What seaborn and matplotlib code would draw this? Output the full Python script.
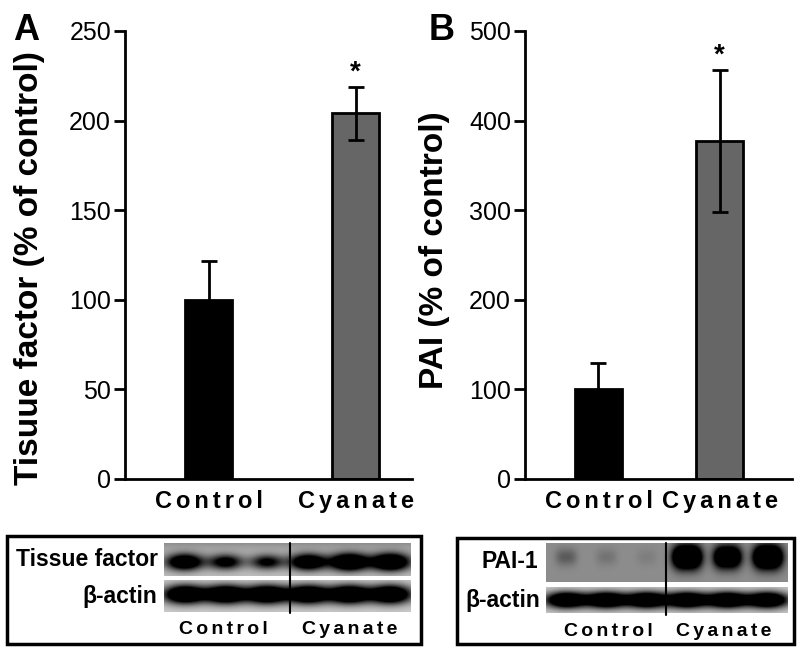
import numpy as np
import pandas as pd
import seaborn as sns
import matplotlib.pyplot as plt
from matplotlib.patches import Rectangle

# bar data (% of control)
groups = ["Control", "Cyanate"]
tf_mean = [100, 204]
tf_sem = [21.5, 15]
pai_mean = [101, 377]
pai_sem = [28, 79]

# western blot band darkness per lane (3 control lanes, 3 cyanate lanes)
tf_band = [0.85, 0.62, 0.55, 0.85, 1.0, 1.0]
tf_actin = [1.0, 1.0, 1.0, 1.0, 1.0, 1.0]
pai_band = [0.14, 0.07, 0.04, 1.0, 0.85, 1.0]
pai_actin = [1.0, 1.0, 1.0, 1.0, 1.0, 1.0]

sns.set_style("ticks")
plt.rcParams["font.family"] = ["Liberation Sans", "DejaVu Sans"]
for key in ["text.color", "axes.labelcolor", "xtick.color", "ytick.color", "axes.edgecolor"]:
    plt.rcParams[key] = "black"

W, H = 800, 650
fig = plt.figure(figsize=(8, 6.5), dpi=100)


def px_axes(x0, y0, x1, y1, **kw):
    return fig.add_axes([x0 / W, 1 - y1 / H, (x1 - x0) / W, (y1 - y0) / H], **kw)


def spaced(s):
    # hair spaces for the loose letter spacing of the original
    return "\u200a\u200a".join(s)


def bar_panel(ax, means, sems, ymax, step, width, xlim, ylabel, letter):
    df = pd.DataFrame({"group": groups, "value": means})
    sns.barplot(data=df, x="group", y="value", hue="group",
                palette=["black", "#666666"], width=width, errorbar=None,
                edgecolor="black", linewidth=2, legend=False, ax=ax)
    x = np.arange(len(means))
    ax.errorbar(x, means, yerr=sems, fmt="none", ecolor="black",
                elinewidth=2, capsize=6, capthick=2, zorder=5)
    # significance mark above the cyanate bar
    ax.annotate("*", (1, means[1] + sems[1]), xytext=(0, 1),
                textcoords="offset points", ha="center", va="bottom",
                fontsize=20, fontweight="bold")
    ax.set_xlim(*xlim)
    ax.set_ylim(0, ymax)
    ax.set_yticks(np.arange(0, ymax + 1, step))
    ax.set_xticks(x)
    ax.set_xticklabels([spaced(g) for g in groups], fontsize=17, fontweight="bold")
    ax.tick_params(axis="y", length=8, width=2, labelsize=18, pad=2)
    ax.tick_params(axis="x", length=0, pad=8)
    ax.set_xlabel("")
    ax.set_ylabel(ylabel, fontsize=24, fontweight="bold")
    ax.yaxis.set_label_coords(-0.28, 0.47)
    sns.despine(ax=ax)
    for sp in ax.spines.values():
        sp.set_linewidth(2)
    ax.text(-0.39, 1.0, letter, transform=ax.transAxes, fontsize=26,
            fontweight="bold", ha="left", va="center")


ax_a = px_axes(125, 31, 412, 479)
bar_panel(ax_a, tf_mean, tf_sem, 250, 50, 0.32, (-0.568, 1.384),
          "Tisuue factor (% of control)", "A")
ax_b = px_axes(525, 31, 792, 479)
bar_panel(ax_b, pai_mean, pai_sem, 500, 100, 0.39, (-0.607, 1.599),
          "PAI (% of control)", "B")
ax_b.yaxis.set_label_coords(-0.28, 0.51)
ax_b.texts[-1].set_x(-0.36)

# blot layer in pixel coordinates
ov = px_axes(0, 0, W, H, zorder=-1)


def strip(darkness, x0, x1, y0, y1, bg, band_h, band_w, yc=0.5,
          top_shade=0.0, power=2, gain=1.5):
    n = len(darkness)
    w, h = int(x1 - x0), int(y1 - y0)
    xx = np.arange(w)[None, :] + 0.5
    yy = np.arange(h)[:, None] + 0.5
    lane = w / n
    img = np.full((h, w), bg, dtype=float)
    img = img + top_shade * np.exp(-yy / (0.25 * h))
    for i, d in enumerate(darkness):
        cx = (i + 0.5) * lane
        hw = band_w * lane * (0.7 + 0.3 * d)
        hh = band_h * h * (0.7 + 0.3 * d)
        blob = np.exp(-np.abs((xx - cx) / hw) ** power - ((yy - yc * h) / hh) ** 2)
        img = img + d * gain * blob
    img = np.clip(img, 0, 1)
    ov.imshow(img, cmap="gray_r", vmin=0, vmax=1, extent=(x0, x1, y1, y0),
              aspect="auto", interpolation="bilinear")


# panel A blot
strip(tf_band, 164, 411, 543, 576, 0.25, 0.25, 0.45, yc=0.58, top_shade=0.2)
strip(tf_actin, 164, 411, 580, 612, 0.2, 0.28, 0.5, yc=0.45)
ov.plot([290, 290], [543, 613], color="black", lw=1.5)
ov.add_patch(Rectangle((7, 536), 414, 108, fill=False, lw=2.5, ec="black"))
ov.text(158, 560, "Tissue factor", ha="right", va="center", fontsize=16.5, fontweight="bold")
ov.text(157, 597, "β-actin", ha="right", va="center", fontsize=16.5, fontweight="bold")
ov.text(223, 629, spaced("Control"), ha="center", va="center", fontsize=14, fontweight="bold")
ov.text(350, 629, spaced("Cyanate"), ha="center", va="center", fontsize=14, fontweight="bold")

# panel B blot
strip(pai_band, 546, 788, 543, 582, 0.45, 0.3, 0.36, yc=0.36, power=3, gain=1.4)
strip(pai_actin, 546, 788, 587, 613, 0.2, 0.3, 0.5, yc=0.5)
ov.plot([666, 666], [543, 615], color="black", lw=1.5)
ov.add_patch(Rectangle((457, 538), 337, 106, fill=False, lw=2.5, ec="black"))
ov.text(538, 562, "PAI-1", ha="right", va="center", fontsize=16.5, fontweight="bold")
ov.text(540, 600, "β-actin", ha="right", va="center", fontsize=16.5, fontweight="bold")
ov.text(608, 631, spaced("Control"), ha="center", va="center", fontsize=14, fontweight="bold")
ov.text(724, 631, spaced("Cyanate"), ha="center", va="center", fontsize=14, fontweight="bold")

ov.set_xlim(0, W)
ov.set_ylim(H, 0)
ov.axis("off")

fig.savefig("out.png", dpi=100)
